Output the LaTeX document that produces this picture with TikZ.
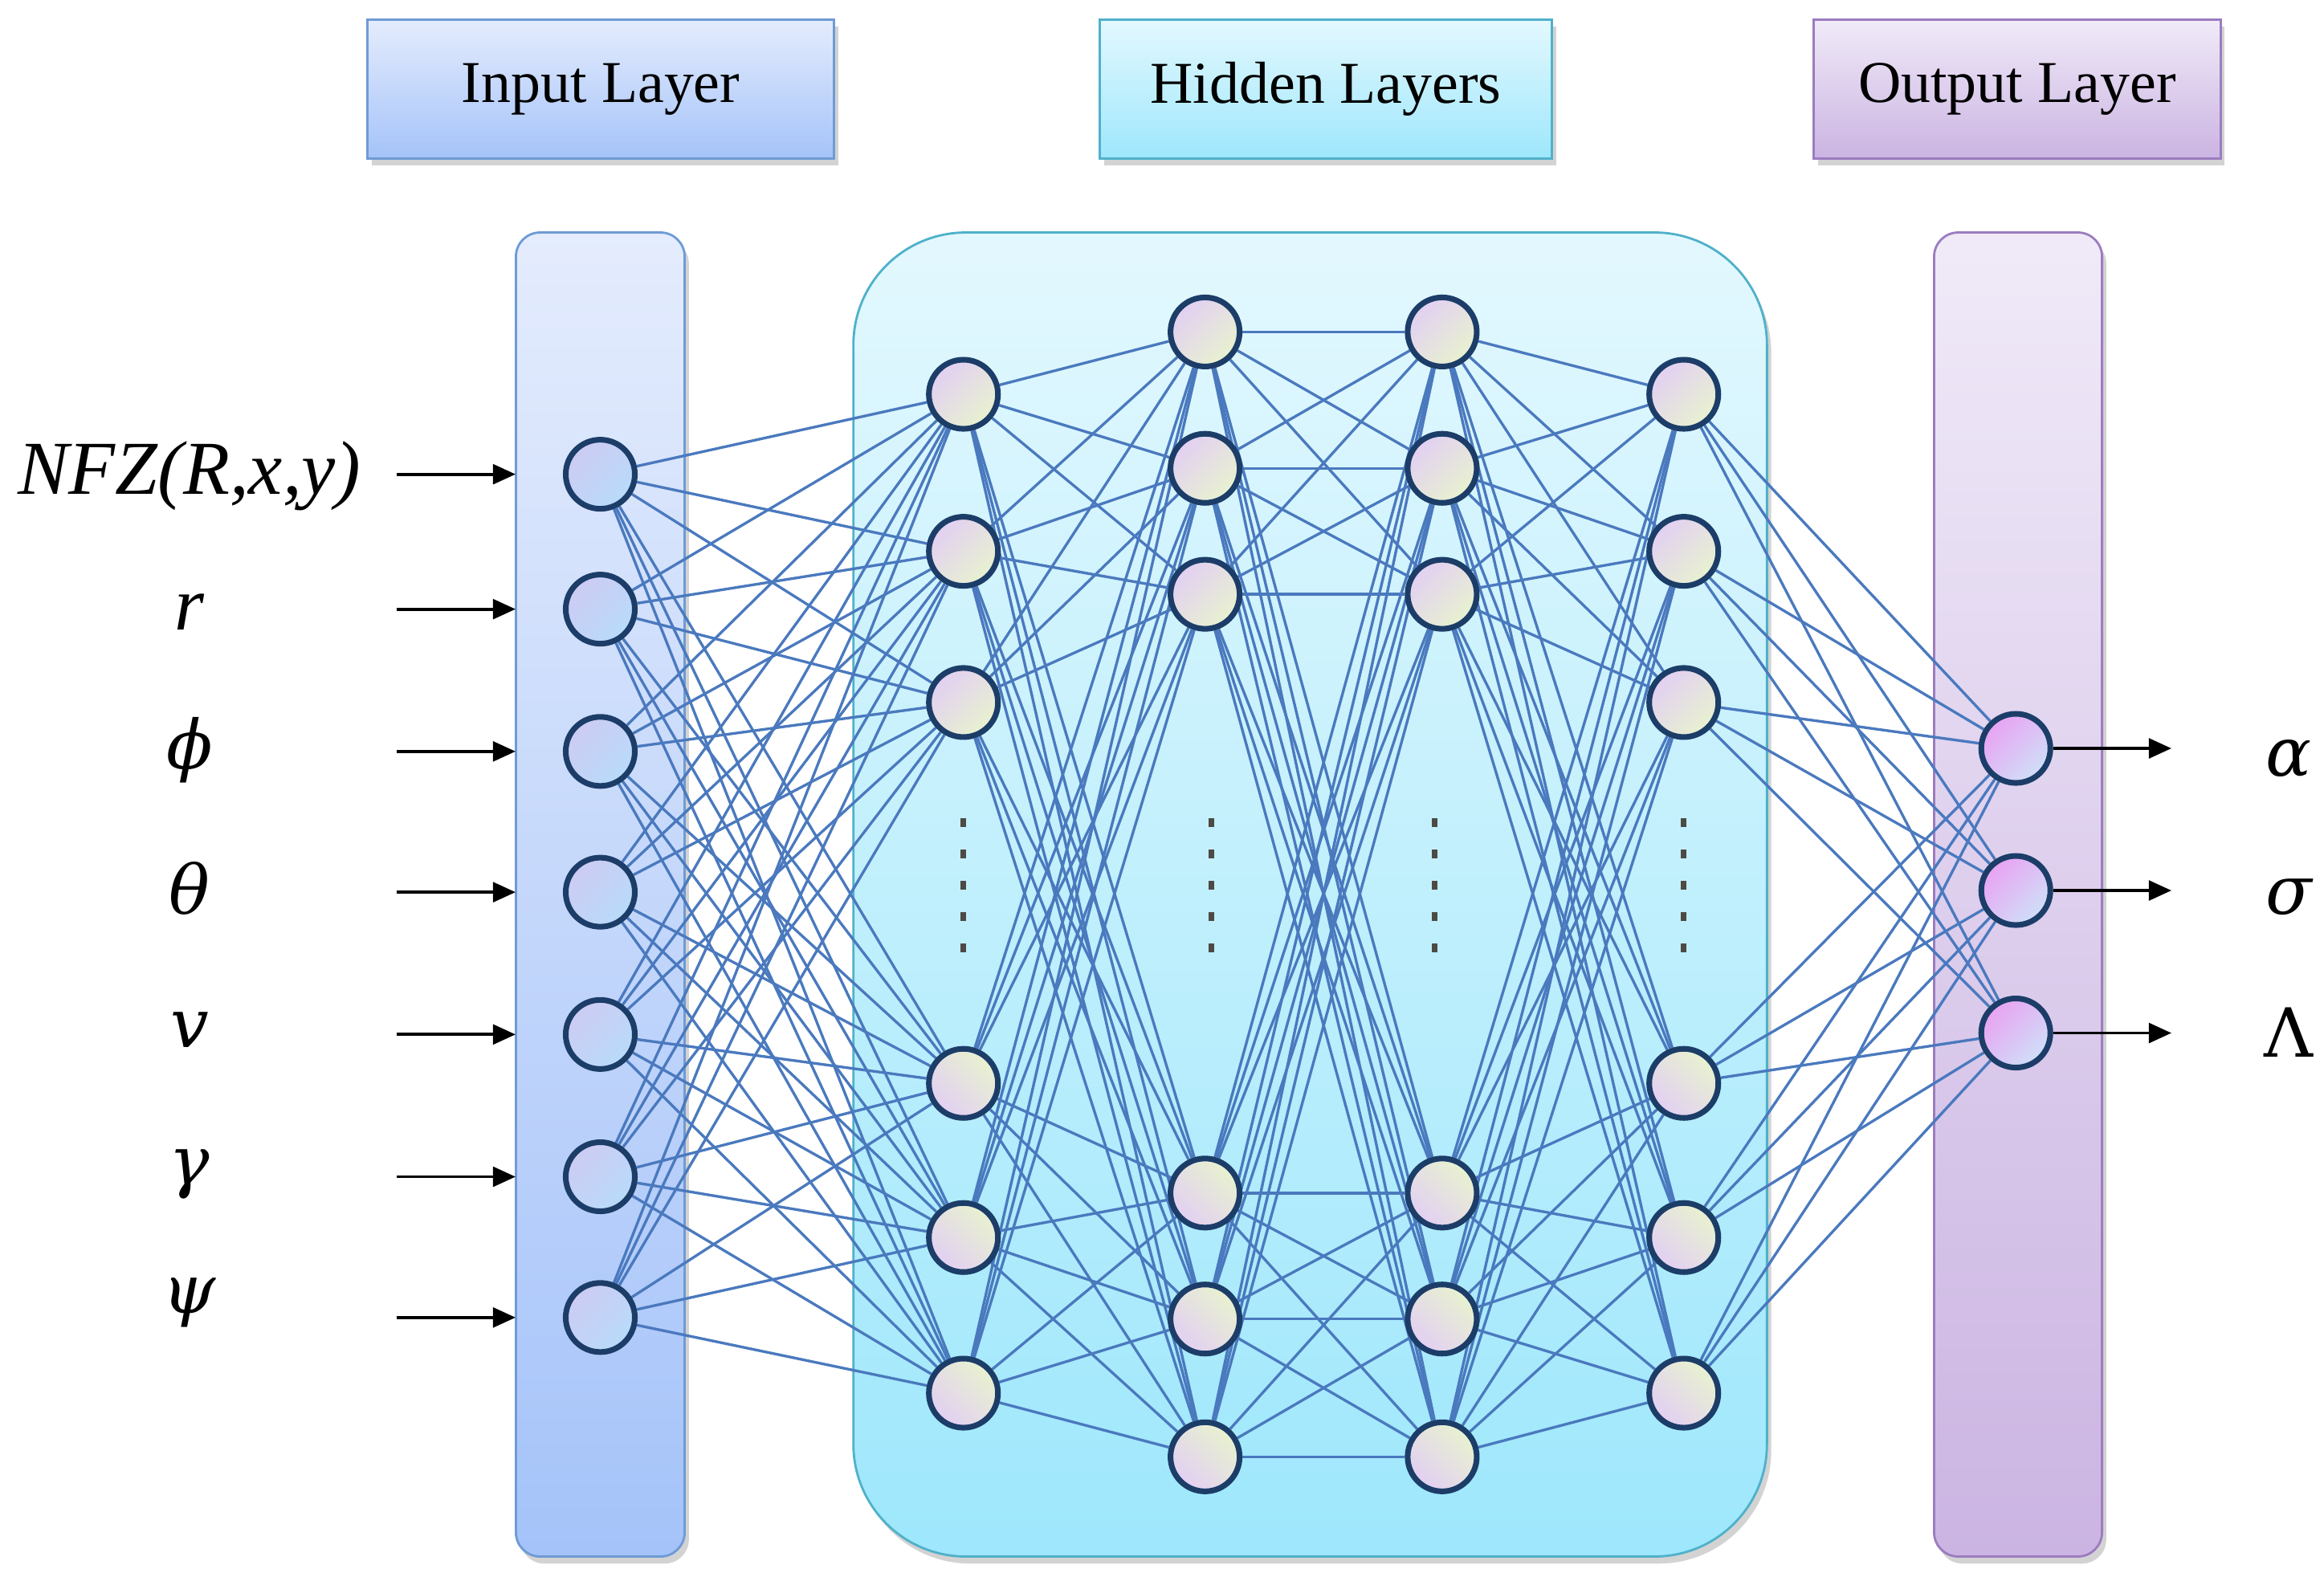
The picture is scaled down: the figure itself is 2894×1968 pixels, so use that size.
\documentclass[tikz,border=0pt]{standalone}
\usepackage{fontspec}
\setmainfont{Liberation Serif}
\newfontfamily\grk{DejaVu Serif}
\usetikzlibrary{shadows,arrows.meta}
\pgfdeclarelayer{boxes}
\pgfdeclarelayer{links}
\pgfsetlayers{boxes,links,main}
\definecolor{inTop}{HTML}{E4ECFD}
\definecolor{inBot}{HTML}{A5C3F9}
\definecolor{inEdge}{HTML}{6E9BD5}
\definecolor{hdTop}{HTML}{E3F8FE}
\definecolor{hdBot}{HTML}{9EE7FC}
\definecolor{hdEdge}{HTML}{4FB1CA}
\definecolor{ouTop}{HTML}{F0EAF8}
\definecolor{ouBot}{HTML}{CBB4E2}
\definecolor{ouEdge}{HTML}{9C7CC0}
\definecolor{nodeEdge}{HTML}{1C3D68}
\definecolor{linkC}{HTML}{4A79BE}
\definecolor{inNA}{HTML}{CDCBF3}
\definecolor{inNB}{HTML}{B8DBFA}
\definecolor{hNA}{HTML}{E2CFF3}
\definecolor{hNB}{HTML}{E8F2CF}
\definecolor{oNA}{HTML}{E9A2F2}
\definecolor{oNB}{HTML}{CFE0F8}
\definecolor{dotC}{HTML}{4D4A45}
\begin{document}
\begin{tikzpicture}[x=0.01cm,y=-0.01cm,
  hdr/.style={draw, line width=0.8pt, inner sep=0pt, minimum height=1.73cm,
    font=\fontsize{21}{25}\selectfont,
    drop shadow={shadow xshift=1.5pt, shadow yshift=-2.5pt, opacity=0.35}},
  colbox/.style={draw, line width=0.8pt, inner sep=0pt, minimum height=16.48cm,
    drop shadow={shadow xshift=1.5pt, shadow yshift=-2.5pt, opacity=0.35}},
  neuron/.style={circle, draw=nodeEdge, line width=2pt, minimum size=0.86cm, inner sep=0pt},
  innode/.style={neuron, top color=inNA, bottom color=inNB, shading angle=45},
  hupper/.style={neuron, top color=hNA, bottom color=hNB, shading angle=45},
  hlower/.style={neuron, top color=hNB, bottom color=hNA, shading angle=-45},
  outnode/.style={neuron, top color=oNA, bottom color=oNB, shading angle=45},
  conn/.style={draw=linkC, line width=0.95pt},
  arr/.style={draw=black, line width=1.1pt, -{Triangle[length=8pt,width=7pt]}},
  lbl/.style={inner sep=0pt, font=\fontsize{27}{32}\selectfont\itshape},
  glbl/.style={inner sep=0pt, font=\fontsize{24}{29}\selectfont\grk\itshape},
  gup/.style={inner sep=0pt, font=\fontsize{24}{29}\selectfont\grk}
]
\useasboundingbox (0,0) rectangle (2894,1968);

% header boxes
\node[hdr, top color=inTop, bottom color=inBot, draw=inEdge, minimum width=5.81cm] (hIn) at (748,111) {Input Layer};
\node[hdr, top color=hdTop, bottom color=hdBot, draw=hdEdge, minimum width=5.63cm] (hHid) at (1651,111) {Hidden Layers};
\node[hdr, top color=ouTop, bottom color=ouBot, draw=ouEdge, minimum width=5.06cm] (hOut) at (2512,111) {Output Layer};

% column boxes
\begin{pgfonlayer}{boxes}
\node[colbox, rounded corners=0.3cm, top color=inTop, bottom color=inBot, draw=inEdge, minimum width=2.10cm] (cIn) at (747.5,1114) {};
\node[colbox, rounded corners=1.4cm, top color=hdTop, bottom color=hdBot, draw=hdEdge, minimum width=11.37cm] (cHid) at (1631.5,1114) {};
\node[colbox, rounded corners=0.3cm, top color=ouTop, bottom color=ouBot, draw=ouEdge, minimum width=2.09cm] (cOut) at (2513,1114) {};
\end{pgfonlayer}

% neurons
\foreach \y [count=\i] in {590.6,758.6,935.8,1111.1,1288.3,1465.5,1640.8}
  \node[innode] (in\i) at (747.5,\y) {};
\foreach \y [count=\i] in {491,686.6,874.9}
  {\node[hupper] (a\i) at (1199.7,\y) {};
   \node[hupper] (d\i) at (2096.7,\y) {};}
\foreach \y [count=\i from 4] in {1349.2,1541.2,1735}
  {\node[hlower] (a\i) at (1199.7,\y) {};
   \node[hlower] (d\i) at (2096.7,\y) {};}
\foreach \y [count=\i] in {413.4,583.2,740.1}
  {\node[hupper] (b\i) at (1500.6,\y) {};
   \node[hupper] (c\i) at (1795.9,\y) {};}
\foreach \y [count=\i from 4] in {1485.8,1642.7,1814.3}
  {\node[hlower] (b\i) at (1500.6,\y) {};
   \node[hlower] (c\i) at (1795.9,\y) {};}
\foreach \y [count=\i] in {932,1109,1286.5}
  \node[outnode] (o\i) at (2510.2,\y) {};

% links
\begin{pgfonlayer}{links}
\foreach \i in {1,...,7} \foreach \j in {1,...,6} \draw[conn] (in\i) -- (a\j);
\foreach \i in {1,...,6} \foreach \j in {1,...,6} {
  \draw[conn] (a\i) -- (b\j);
  \draw[conn] (b\i) -- (c\j);
  \draw[conn] (c\i) -- (d\j);}
\foreach \i in {1,...,6} \foreach \j in {1,2,3} \draw[conn] (d\i) -- (o\j);
\end{pgfonlayer}

% ellipsis dots
\foreach \x in {1199.7,1508,1786.6,2096.7}
  \foreach \y in {1024,1063,1102,1141,1180}
    \fill[dotC] (\x-3.5,\y-5.5) rectangle (\x+3.5,\y+5.5);

% input arrows and labels
\foreach \y [count=\i] in {590.6,758.6,935.8,1111.1,1288.3,1465.5,1640.8} {
  \coordinate (s\i) at (494,\y);
  \coordinate (e\i) at (642,\y);
  \draw[arr] (s\i) -- (e\i);}
\node[lbl] (l1) at (236,593) {NFZ(R,x,y)};
\node[lbl] (l2) at (236,762) {r};
\node[glbl] (l3) at (236,934) {ϕ};
\node[glbl] (l4) at (236,1106) {θ};
\node[glbl] (l5) at (236,1283) {v};
\node[glbl] (l6) at (236,1462) {γ};
\node[glbl] (l7) at (236,1622) {ψ};

% output arrows and labels
\foreach \y [count=\i] in {932,1109,1286.5} {
  \coordinate (t\i) at (2704,\y);
  \draw[arr] (o\i) -- (t\i);}
\node[glbl] (r1) at (2850,945) {α};
\node[glbl] (r2) at (2850,1117) {σ};
\node[gup] (r3) at (2850,1286) {Λ};
\end{tikzpicture}
\end{document}
